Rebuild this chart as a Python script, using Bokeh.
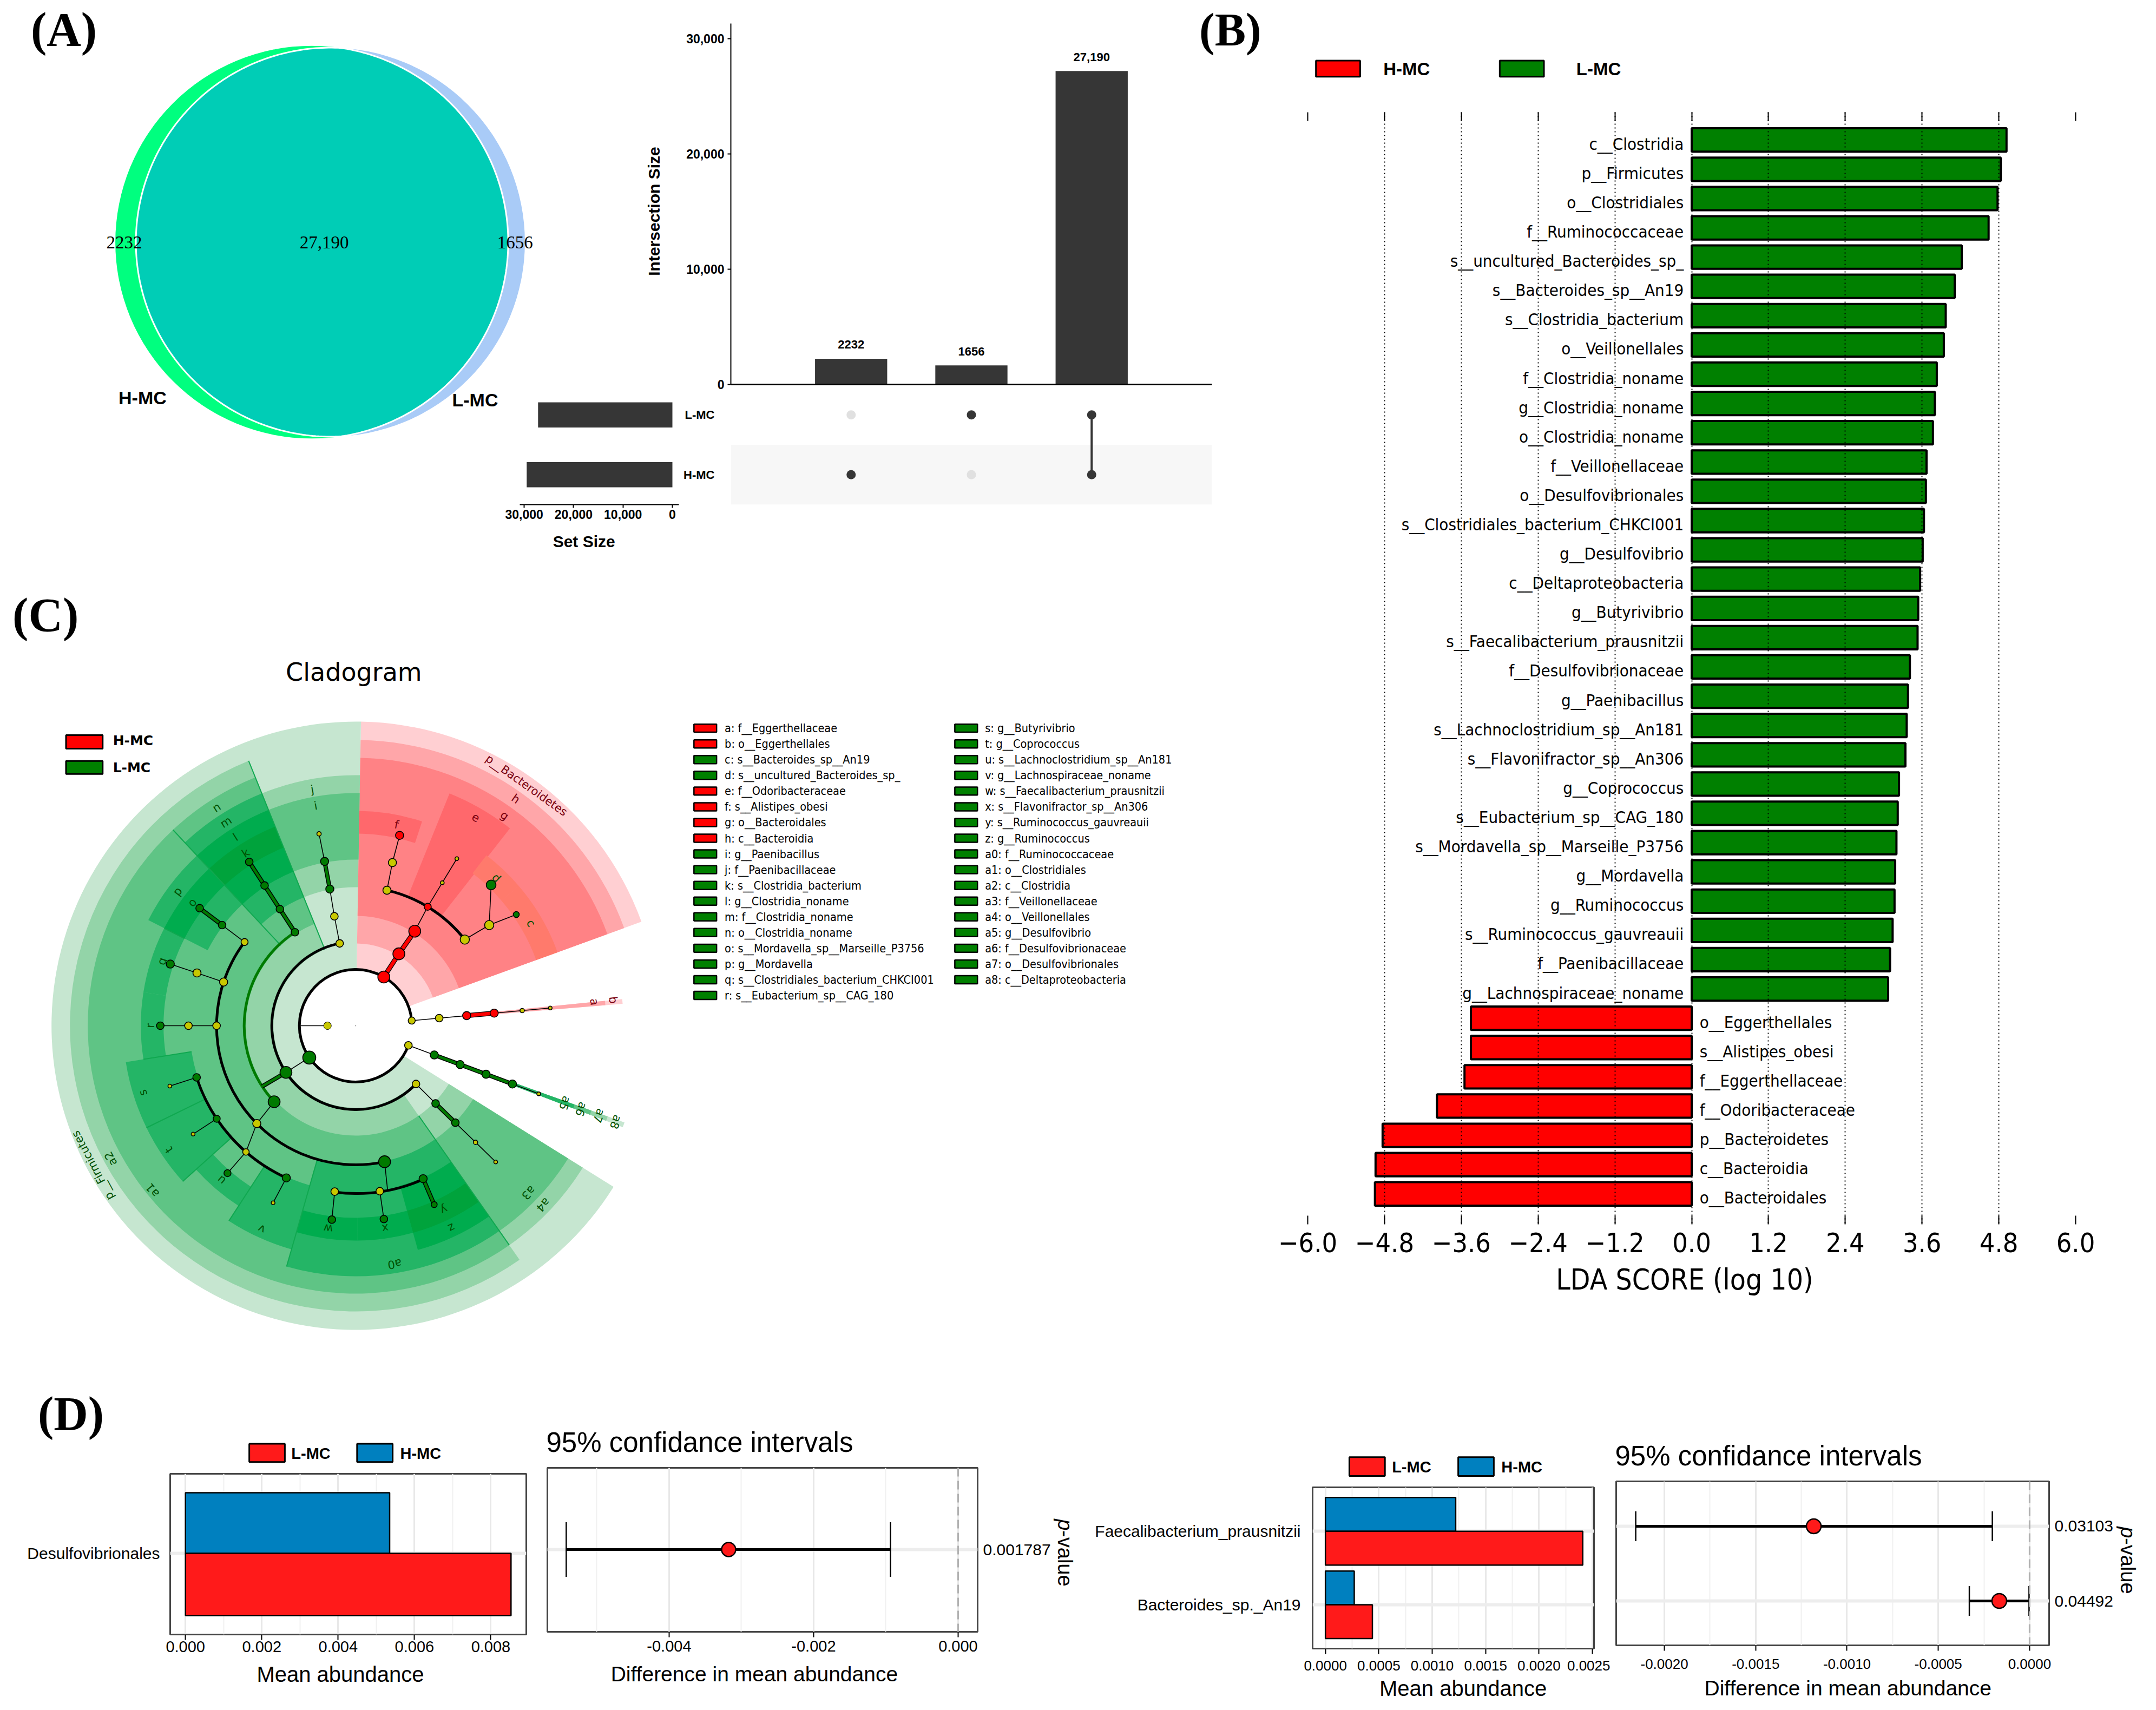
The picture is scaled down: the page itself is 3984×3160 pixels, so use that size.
from bokeh.plotting import figure
from bokeh.models import Range1d, LinearAxis, FixedTicker, Grid, Column, Span
from bokeh.core.properties import value
from bokeh.embed import file_html
from bokeh.resources import INLINE
import numpy as np

# ------------------ DATA ------------------
VENN_ONLY_H = 2232
VENN_BOTH = 27190
VENN_ONLY_L = 1656
UP_VALUES = [2232, 1656, 27190]
UP_LABELS = ["2232", "1656", "27,190"]
UP_TICKS = [0, 10000, 20000, 30000]
UP_TICK_LABELS = ["0", "10,000", "20,000", "30,000"]
SET_NAMES = ["H-MC", "L-MC"]
SET_SIZES = [29500, 27200]
MATRIX_H = [1, 0, 1]
MATRIX_L = [0, 1, 1]

LDA_NAMES = ["c__Clostridia","p__Firmicutes","o__Clostridiales","f__Ruminococcaceae","s__uncultured_Bacteroides_sp_",
 "s__Bacteroides_sp__An19","s__Clostridia_bacterium","o__Veillonellales","f__Clostridia_noname","g__Clostridia_noname",
 "o__Clostridia_noname","f__Veillonellaceae","o__Desulfovibrionales","s__Clostridiales_bacterium_CHKCI001","g__Desulfovibrio",
 "c__Deltaproteobacteria","g__Butyrivibrio","s__Faecalibacterium_prausnitzii","f__Desulfovibrionaceae","g__Paenibacillus",
 "s__Lachnoclostridium_sp__An181","s__Flavonifractor_sp__An306","g__Coprococcus","s__Eubacterium_sp__CAG_180",
 "s__Mordavella_sp__Marseille_P3756","g__Mordavella","g__Ruminococcus","s__Ruminococcus_gauvreauii","f__Paenibacillaceae",
 "g__Lachnospiraceae_noname","o__Eggerthellales","s__Alistipes_obesi","f__Eggerthellaceae","f__Odoribacteraceae",
 "p__Bacteroidetes","c__Bacteroidia","o__Bacteroidales"]
LDA_VALUES = [4.92,4.83,4.78,4.64,4.22,4.11,3.97,3.94,3.83,3.80,3.77,3.67,3.66,3.63,3.61,3.57,3.54,3.53,3.41,3.38,3.36,3.34,
 3.24,3.22,3.20,3.18,3.17,3.14,3.10,3.07,-3.45,-3.45,-3.55,-3.98,-4.83,-4.94,-4.95]
LDA_TICKS = [-6.0,-4.8,-3.6,-2.4,-1.2,0.0,1.2,2.4,3.6,4.8,6.0]
LDA_TICK_LABELS = ["\u22126.0","\u22124.8","\u22123.6","\u22122.4","\u22121.2","0.0","1.2","2.4","3.6","4.8","6.0"]

LEG_C1 = ["a: f__Eggerthellaceae","b: o__Eggerthellales","c: s__Bacteroides_sp__An19","d: s__uncultured_Bacteroides_sp_",
 "e: f__Odoribacteraceae","f: s__Alistipes_obesi","g: o__Bacteroidales","h: c__Bacteroidia","i: g__Paenibacillus",
 "j: f__Paenibacillaceae","k: s__Clostridia_bacterium","l: g__Clostridia_noname","m: f__Clostridia_noname",
 "n: o__Clostridia_noname","o: s__Mordavella_sp__Marseille_P3756","p: g__Mordavella","q: s__Clostridiales_bacterium_CHKCI001",
 "r: s__Eubacterium_sp__CAG_180"]
LEG_C1_GROUP = list("RRGGRRRRGGGGGGGGGG")
LEG_C2 = ["s: g__Butyrivibrio","t: g__Coprococcus","u: s__Lachnoclostridium_sp__An181","v: g__Lachnospiraceae_noname",
 "w: s__Faecalibacterium_prausnitzii","x: s__Flavonifractor_sp__An306","y: s__Ruminococcus_gauvreauii","z: g__Ruminococcus",
 "a0: f__Ruminococcaceae","a1: o__Clostridiales","a2: c__Clostridia","a3: f__Veillonellaceae","a4: o__Veillonellales",
 "a5: g__Desulfovibrio","a6: f__Desulfovibrionaceae","a7: o__Desulfovibrionales","a8: c__Deltaproteobacteria"]

# Cladogram: level radii, wedges (level, start, end, group, depth), nodes (level, angle, colour, size)
NODE_R = [104, 155, 206, 257, 309, 361]
WEDGE_IN = [104, 152, 203, 256, 307, 355]
WEDGE_OUT = [562, 528, 495, 463, 430, 397]
WEDGES = [
 (0,20,89,"r",1),(1,20,89,"r",2),(2,20,89,"r",3),(3,52,68,"r",4),(5,72,89,"r",4),(5,40.6,52.5,"o",4),(5,20,40.6,"o",4),
 (0,89,328,"g",1),(1,112,305,"g",2),(2,133,305,"g",3),(2,112,133,"g",3),(3,112,133,"g",4),(4,112,133,"g",5),(5,112,133,"g",6),
 (3,89,112,"g",2),(4,89,112,"g",3),(4,133,153,"g",4),(5,133,153,"g",5),(5,153,171,"g",4),(5,171,189,"g",4),(4,189,206,"g",4),
 (4,206,222,"g",4),(5,222,237,"g",4),(4,237,254,"g",4),(3,254,305,"g",4),(5,254,270.5,"g",5),(5,270.5,285.5,"g",5),
 (4,285.5,305,"g",5),(5,285.5,305,"g",6),(2,305,328,"g",2),(3,305,328,"g",3),
 (2,4.7,5.7,"r",1),(3,4.7,5.7,"r",2),
 (1,339.2,340.2,"g",1),(2,339.2,340.2,"g",2),(3,339.2,340.2,"g",3),(4,339.2,340.2,"g",4),
]
BOUNDARIES = [(133,203,495),(305,203,495),(254,256,463),(112,152,528),(153,355,397),(189,307,397),(206,307,430),(222,307,430),(237,307,430)]
NODES = {
 "pa":(0,5.2,"y",13),"ca":(1,5.2,"y",14),"b":(2,5.2,"r",15),"a":(3,5.2,"r",15),"ga":(4,5.2,"y",8),"sa":(5,5.2,"y",7),
 "pp":(0,339.6,"y",14),"a8":(1,339.6,"g",15),"a7":(2,339.6,"g",15),"a6":(3,339.6,"g",15),"a5":(4,339.6,"g",15),"sp":(5,339.6,"y",7),
 "pb":(0,60,"r",22),"h":(1,59,"r",22),"g":(2,58,"r",22),"e":(3,58.8,"r",13),"ge":(4,58.8,"y",7),"se":(5,58.8,"y",7),
 "f77":(3,77,"y",15),"g77":(4,77.3,"y",15),"f":(5,77,"r",15),
 "f38":(3,38.3,"y",17),"g37":(4,37,"y",17),"d":(5,46.1,"g",18),"c":(5,34.7,"g",11),
 "pf":(0,214.5,"g",24),"a2":(1,213.8,"g",22),"a2x":(2,213,"g",1),"a1":(2,223,"g",22),
 "cb":(1,101,"y",14),"ob":(2,101,"y",14),"j":(3,100.7,"g",15),"i":(4,100.7,"g",15),"si":(5,100.8,"y",8),
 "n":(2,123,"g",14),"m":(3,123,"g",14),"l":(4,123,"g",14),"k":(5,123,"g",14),
 "f143":(3,143,"y",13),"p":(4,143,"g",14),"o":(5,143,"g",14),
 "f161":(3,161.7,"y",15),"g161":(4,161.6,"y",15),"q":(5,161.6,"g",15),
 "f180":(3,180,"y",14),"g180":(4,180,"y",14),"r":(5,180,"g",14),
 "f225":(3,224.7,"y",15),"s":(4,198,"g",14),"t":(4,213.8,"g",13),"g229":(4,229,"y",12),"v":(4,245.5,"g",15),
 "ss":(5,198,"y",7),"st":(5,213.7,"y",7),"u":(5,229,"g",13),"sv":(5,245,"y",7),
 "a0":(3,282,"g",22),"g263":(4,262.8,"y",14),"g278":(4,278.3,"y",14),"z":(4,293.8,"g",15),
 "a0x":(4,281,"y",1),"w":(5,263,"g",14),"x":(5,278.3,"g",14),"y":(5,293.7,"g",11),
 "c316":(1,316,"y",14),"a4":(2,315.8,"g",14),"a3":(3,315.8,"g",14),"g316":(4,315.8,"y",8),"s316":(5,315.8,"y",7),
}
THIN_EDGES = [("pa","ca"),("ca","b"),("a","ga"),("ga","sa"),("pp","a8"),("a5","sp"),("g","e"),("e","ge"),("ge","se"),
 ("f77","g77"),("g77","f"),("f38","g37"),("g37","d"),("g37","c"),("pf","a2"),("a1","f225"),("f225","g229"),
 ("cb","ob"),("ob","j"),("i","si"),("f143","p"),("f161","g161"),("g161","q"),("f180","g180"),("g180","r"),
 ("s","ss"),("t","st"),("g229","u"),("v","sv"),("a0","a0x"),("g263","w"),("g278","x"),("c316","a4"),("a3","g316"),("g316","s316")]
GREEN_EDGES = [("a2","a2x"),("n","m"),("m","l"),("l","k"),("p","o"),("j","i"),("a4","a3"),("z","y"),
 ("a8","a7"),("a7","a6"),("a6","a5")]
RED_EDGES = [("pb","h"),("h","g"),("b","a")]
ARCS = [(104,5,340,"k"),(155,101,316,"k"),(206,123,223,"g"),(257,143,282,"k"),(309,198,245.5,"k"),
 (310,262.8,293.8,"k"),(257,38.3,77,"k")]
CLADE_LABELS = [("a",443,5.7,"r"),("b",478,5.7,"r"),("c",375,30.3,"g"),("d",377,46.4,"g"),("e",445,60,"r"),("f",379,78.5,"r"),
 ("g",476,54.7,"r"),("h",513,54.8,"r"),("p__Bacteroidetes",545,54.6,"r"),
 ("i",413,100.3,"g"),("j",444,100.4,"g"),("k",378,122.5,"g"),("l",413,122.5,"g"),("m",446,122.5,"g"),("n",478,122.5,"g"),
 ("o",378,143,"g"),("p",412,143,"g"),("q",377,161.6,"g"),("r",379,180,"g"),("s",412,197.5,"g"),("t",414,213.6,"g"),
 ("u",378,229,"g"),("v",414,245.2,"g"),("w",378,262.3,"g"),("x",378,278.3,"g"),("y",377,295.6,"g"),("z",413,295.4,"g"),
 ("a0",446,279.3,"g"),("a1",483,219,"g"),("a2",515,208.5,"g"),("p__Firmicutes",550,208,"g"),("a3",444,316,"g"),("a4",479,316.3,"g"),
 ("a5",412,339.7,"g"),("a6",444,339.7,"g"),("a7",479,339.7,"g"),("a8",512,339.7,"g")]

D1_CAT = ["Desulfovibrionales"]
D1_H = [0.00535]
D1_L = [0.00853]
D1_TICKS = [0.0,0.002,0.004,0.006,0.008]
D1_LABELS = ["0.000","0.002","0.004","0.006","0.008"]
D1_DIFF = [-0.003176]
D1_LO = [-0.005424]
D1_HI = [-0.000936]
D1_P = ["0.001787"]
D1C_TICKS = [-0.004,-0.002,0.0]
D1C_LABELS = ["-0.004","-0.002","0.000"]

D2_CAT = ["Bacteroides_sp._An19","Faecalibacterium_prausnitzii"]
D2_H = [0.00027,0.00122]
D2_L = [0.00044,0.00241]
D2_TICKS = [0.0,0.0005,0.001,0.0015,0.002,0.0025]
D2_LABELS = ["0.0000","0.0005","0.0010","0.0015","0.0020","0.0025"]
D2_DIFF = [-0.000166,-0.001182]
D2_LO = [-0.00033,-0.002157]
D2_HI = [-0.000003,-0.000204]
D2_P = ["0.04492","0.03103"]
D2C_TICKS = [-0.002,-0.0015,-0.001,-0.0005,0.0]
D2C_LABELS = ["-0.0020","-0.0015","-0.0010","-0.0005","0.0000"]

# ------------------ HELPERS ------------------
SANS = "Liberation Sans"
COND = "DejaVu Sans Condensed"
figs = []

def panel(x0, x1, y0, y1, xr, yr, pad=(130, 150, 30, 100)):
    l, r, t, b = pad
    p = figure(width=int(x1-x0+l+r), height=int(y1-y0+t+b), x_range=Range1d(*xr), y_range=Range1d(*yr),
               x_axis_type=None, y_axis_type=None, output_backend="svg", toolbar_location=None,
               min_border_left=l, min_border_right=r, min_border_top=t, min_border_bottom=b, frame_align=False,
               background_fill_alpha=0, border_fill_alpha=0, outline_line_color=None,
               styles={"position": "absolute", "left": f"{x0-l}px", "top": f"{y0-t}px"})
    figs.append(p)
    return p

def axis(p, side, ticks, labels, size, font=SANS, style="normal", standoff=8, tick_out=10, tick_in=0, line=None, minor=None, line_w=2):
    ax = LinearAxis(ticker=FixedTicker(ticks=list(ticks)),
                    major_label_overrides={float(t): s for t, s in zip(ticks, labels)} if labels else {},
                    major_label_text_font=font, major_label_text_font_size=f"{size}px", major_label_text_font_style=style,
                    major_label_text_color="black", major_label_standoff=standoff,
                    major_tick_out=tick_out, major_tick_in=tick_in, major_tick_line_color="black" if (tick_out or tick_in) else None,
                    major_tick_line_width=2, minor_tick_line_color=None, axis_line_color=line, axis_line_width=line_w)
    p.add_layout(ax, side)
    return ax

def polar(r, a):
    return r*np.cos(np.radians(a)), r*np.sin(np.radians(a))

# ------------------ VENN ------------------
H_TOTAL = VENN_ONLY_H + VENN_BOTH
L_TOTAL = VENN_ONLY_L + VENN_BOTH
K = 363/np.sqrt(H_TOTAL)
rH, rL = K*np.sqrt(H_TOTAL), K*np.sqrt(L_TOTAL)
cH, cL, cY = 575.6, 610.0, 447.0
v = panel(200, 975, 70, 830, (200, 975), (830, 70), pad=(10, 10, 10, 10))
v.circle(x=[cH], y=[cY], radius=[rH], fill_color="#00FF7F", line_color=None)
v.circle(x=[cL], y=[cY], radius=[rL], fill_color="#A9CBF7", line_color=None)
d = cL - cH
xi = (d*d + rH*rH - rL*rL)/(2*d)
ang_H = np.arccos(xi/rH)
ang_L = np.arccos((d-xi)/rL)
tH = np.linspace(-ang_H, ang_H, 200)
tL = np.linspace(np.pi-ang_L, np.pi+ang_L, 200)
v.patch(np.r_[cH+rH*np.cos(tH), cL+rL*np.cos(tL)], np.r_[cY+rH*np.sin(tH), cY+rL*np.sin(tL)],
        fill_color="#00CDB6", line_color="white", line_width=3)

# ------------------ UPSET ------------------
u = panel(1350, 2239, 43, 710, (0, 4), (0, 31315), pad=(100, 10, 20, 20))
up_x = [1, 2, 3]
u.vbar(x=up_x, top=UP_VALUES, width=0.6, fill_color="#363636", line_color=None)
u.text(x=up_x, y=UP_VALUES, text=UP_LABELS, text_align="center", text_baseline="middle", y_offset=-26,
       text_font=value(SANS), text_font_style="bold", text_font_size="22px", color="black")
axis(u, "left", UP_TICKS, UP_TICK_LABELS, 23, style="bold", standoff=6, tick_out=6, line="black")
axis(u, "below", [], None, 10, tick_out=0, line="black", line_w=3).major_label_text_color = None

m = panel(1350, 2239, 711, 932, (0, 4), (0, 2), pad=(110, 10, 10, 10))
m.quad(left=[0], right=[4], bottom=[0], top=[1], fill_color="#F7F7F7", line_color=None)
for row, flags in zip([0.5, 1.5], [MATRIX_H, MATRIX_L]):
    m.scatter(x=up_x, y=[row]*3, size=17, fill_color=["#363636" if f else "#E0E0E0" for f in flags], line_color=None)
m.segment(x0=[up_x[2]], x1=[up_x[2]], y0=[0.5], y1=[1.5], line_color="#363636", line_width=4)
axis(m, "left", [0.5, 1.5], SET_NAMES, 22, style="bold", standoff=30, tick_out=0)

s = panel(960, 1254, 711, 932, (30900, -1314), (0, 2), pad=(50, 30, 10, 60))
s.hbar(y=[0.5, 1.5], left=0, right=SET_SIZES, height=0.42, fill_color="#363636", line_color=None)
axis(s, "below", UP_TICKS, UP_TICK_LABELS, 23, style="bold", standoff=3, tick_out=6, line="black")

# ------------------ LDA ------------------
b = panel(2416, 3835, 207, 2262, (-6, 6), (37.04, -0.947), pad=(60, 60, 10, 90))
pos = np.arange(len(LDA_VALUES))
vals = np.array(LDA_VALUES)
b.hbar(y=pos, left=0, right=vals, height=0.80, fill_color=["#008000" if x > 0 else "#FF0000" for x in vals],
       line_color="black", line_width=4)
names = np.array(LDA_NAMES)
b.text(x=[-0.125]*int((vals > 0).sum()), y=pos[vals > 0], text=list(names[vals > 0]), text_align="right", text_baseline="middle",
       y_offset=7, text_font=value(COND), text_font_size="31px", color="black")
b.text(x=[0.125]*int((vals < 0).sum()), y=pos[vals < 0], text=list(names[vals < 0]), text_align="left", text_baseline="middle",
       y_offset=7, text_font=value(COND), text_font_size="31px", color="black")
b.add_layout(Grid(dimension=0, ticker=FixedTicker(ticks=LDA_TICKS), grid_line_color="black", grid_line_dash="2 5",
                  grid_line_width=2, level="overlay"))
axis(b, "below", LDA_TICKS, LDA_TICK_LABELS, 50, font=COND, standoff=15, tick_out=0, tick_in=16)
axis(b, "above", LDA_TICKS, [""]*len(LDA_TICKS), 1, standoff=0, tick_out=0, tick_in=16)

# ------------------ CLADOGRAM ------------------
CX, CY = 656.7, 1895.0
c = panel(30, 1240, 1310, 2480, (30-CX, 1240-CX), (CY-2480, CY-1310), pad=(5, 5, 5, 5))
DEPTH_COL = {"g": {1: "#C6E6D0", 2: "#93D4A8", 3: "#5FC485", 4: "#24B566", 5: "#00AC4E", 6: "#00A33C"},
             "r": {1: "#FFCFD2", 2: "#FFA6A9", 3: "#FF8285", 4: "#FF686C"},
             "o": {4: "#FF7A6C"}}
for lev, a0, a1, grp, dep in sorted(WEDGES, key=lambda w: w[4]):
    c.annular_wedge(x=[0], y=[0], inner_radius=[WEDGE_IN[lev]], outer_radius=[WEDGE_OUT[lev]], start_angle=[a0], end_angle=[a1],
                    start_angle_units="deg", end_angle_units="deg", fill_color=DEPTH_COL[grp][dep], line_color=None)
for a_, r0, r1 in BOUNDARIES:
    x0, y0 = polar(r0, a_)
    x1, y1 = polar(r1, a_)
    c.segment(x0=[x0], y0=[y0], x1=[x1], y1=[y1], line_color="#10A850", line_width=2)
for r_, a0, a1, col in ARCS:
    c.arc(x=[0], y=[0], radius=[r_], start_angle=[a0], end_angle=[a1], start_angle_units="deg", end_angle_units="deg",
          line_color="black" if col == "k" else "#007A00", line_width=5)
def xy(n):
    lev, a, _, _ = NODES[n]
    return polar(NODE_R[lev], a)
def draw_edges(edges, color, w):
    x0 = [xy(a)[0] for a, _ in edges]; y0 = [xy(a)[1] for a, _ in edges]
    x1 = [xy(b_)[0] for _, b_ in edges]; y1 = [xy(b_)[1] for _, b_ in edges]
    c.segment(x0=x0, y0=y0, x1=x1, y1=y1, line_color=color, line_width=w)
draw_edges(THIN_EDGES, "black", 1.6)
draw_edges(GREEN_EDGES, "black", 8)
draw_edges(GREEN_EDGES, "#007A00", 5)
draw_edges(RED_EDGES, "black", 9)
draw_edges(RED_EDGES, "#FF0000", 6.5)
# small inner node and root
x52, y52 = polar(52, 180)
x104, y104 = polar(102, 180)
c.segment(x0=[x52], y0=[y52], x1=[x104], y1=[y104], line_color="black", line_width=1.6)
c.scatter(x=[x52], y=[y52], size=14, fill_color="#C8C800", line_color="black", line_width=1)
c.scatter(x=[0], y=[0], size=2, fill_color="#888888", line_color=None)
NCOL = {"y": "#C8C800", "g": "#007A00", "r": "#FF0000"}
nk = [k for k in NODES if NODES[k][3] > 1]
c.scatter(x=[xy(k)[0] for k in nk], y=[xy(k)[1] for k in nk], size=[NODES[k][3] for k in nk],
          fill_color=[NCOL[NODES[k][2]] for k in nk], line_color="black", line_width=1.6)
LCOL = {"r": "#7A0010", "g": "#005000"}
for t_, r_, a_, col in CLADE_LABELS:
    x_, y_ = polar(r_, a_)
    c.text(x=[x_], y=[y_], text=[t_], angle=[a_-90], angle_units="deg", text_align="center", text_baseline="middle",
           text_font=value("DejaVu Sans"), text_font_size="21px", text_color=LCOL[col])

# ------------------ PANEL D ------------------
def style_frame(p):
    p.outline_line_color = "#444444"
    p.outline_line_width = 3

def vgrid(p, ticks, minor):
    p.add_layout(Grid(dimension=0, ticker=FixedTicker(ticks=list(ticks), minor_ticks=list(minor)), grid_line_color="#E8E8E8", grid_line_width=3,
                      minor_grid_line_color="#F0F0F0", minor_grid_line_width=2))

def hgrid(p, ticks):
    p.add_layout(Grid(dimension=1, ticker=FixedTicker(ticks=list(ticks)), grid_line_color="#EDEDED", grid_line_width=6))

RED, BLUE = "#FF1A1A", "#0080BF"
# D1 bars
d1 = panel(314, 972, 2723, 3020, (-0.0004, 0.00893), (-1.5, 1.47), pad=(300, 30, 30, 100))
style_frame(d1)
vgrid(d1, D1_TICKS, [0.001, 0.003, 0.005, 0.007])
hgrid(d1, [0])
d1.hbar(y=[0.56], left=0, right=D1_H, height=1.12, fill_color=BLUE, line_color="black", line_width=2.5)
d1.hbar(y=[-0.575], left=0, right=D1_L, height=1.15, fill_color=RED, line_color="black", line_width=2.5)
axis(d1, "below", D1_TICKS, D1_LABELS, 29, standoff=2)
axis(d1, "left", [0], D1_CAT, 30, standoff=19, tick_out=0)

# D1 CI
d1c = panel(1011, 1806, 2712, 3015, (-0.005685, 0.00027), (-1.52, 1.51), pad=(10, 160, 30, 100))
style_frame(d1c)
vgrid(d1c, D1C_TICKS, [-0.005, -0.003, -0.001])
hgrid(d1c, [0])
d1c.add_layout(Span(location=0, dimension="height", line_color="#B0B0B0", line_width=3, line_dash="16 8"))
d1c.segment(x0=D1_LO, x1=D1_HI, y0=[0], y1=[0], line_color="black", line_width=5)
d1c.segment(x0=D1_LO, x1=D1_LO, y0=[-0.505], y1=[0.505], line_color="black", line_width=2.5)
d1c.segment(x0=D1_HI, x1=D1_HI, y0=[-0.505], y1=[0.505], line_color="black", line_width=2.5)
d1c.scatter(x=D1_DIFF, y=[0], size=26, fill_color=RED, line_color="black", line_width=2.5)
axis(d1c, "below", D1C_TICKS, D1C_LABELS, 29, standoff=6)
axis(d1c, "right", [0], D1_P, 30, standoff=10, tick_out=0)

# D2 bars
d2_y = [0, 1]
d2 = panel(2425, 2945, 2747.5, 3046, (-0.00012, 0.002515), (-0.596, 1.599), pad=(430, 30, 30, 100))
style_frame(d2)
vgrid(d2, D2_TICKS, [0.00025, 0.00075, 0.00125, 0.00175, 0.00225])
hgrid(d2, d2_y)
d2.hbar(y=[y+0.23 for y in d2_y], left=0, right=D2_H, height=0.46, fill_color=BLUE, line_color="black", line_width=2.5)
d2.hbar(y=[y-0.23 for y in d2_y], left=0, right=D2_L, height=0.46, fill_color=RED, line_color="black", line_width=2.5)
axis(d2, "below", D2_TICKS, D2_LABELS, 26, standoff=12)
axis(d2, "left", d2_y, D2_CAT, 30, standoff=22, tick_out=0)

# D2 CI
d2c = panel(2986, 3786, 2737, 3040, (-0.002264, 0.000107), (-0.594, 1.601), pad=(10, 160, 30, 100))
style_frame(d2c)
vgrid(d2c, D2C_TICKS, [-0.00175, -0.00125, -0.00075, -0.00025])
hgrid(d2c, d2_y)
d2c.add_layout(Span(location=0, dimension="height", line_color="#B0B0B0", line_width=3, line_dash="16 8"))
d2c.segment(x0=D2_LO, x1=D2_HI, y0=d2_y, y1=d2_y, line_color="black", line_width=5)
d2c.segment(x0=D2_LO, x1=D2_LO, y0=[y-0.2 for y in d2_y], y1=[y+0.2 for y in d2_y], line_color="black", line_width=2.5)
d2c.segment(x0=D2_HI, x1=D2_HI, y0=[y-0.2 for y in d2_y], y1=[y+0.2 for y in d2_y], line_color="black", line_width=2.5)
d2c.scatter(x=D2_DIFF, y=d2_y, size=27, fill_color=RED, line_color="black", line_width=2.5)
axis(d2c, "below", D2C_TICKS, D2C_LABELS, 26, standoff=15)
axis(d2c, "right", d2_y, D2_P, 30, standoff=10, tick_out=0)

# ------------------ OVERLAY (titles, legends, labels) ------------------
o = panel(0, 3984, 0, 3160, (0, 3984), (3160, 0), pad=(0, 0, 0, 0))
def T(x, y, t, size, font=SANS, style="normal", align="center", angle=0, color="black"):
    o.text(x=[x], y=[y], text=[t], angle=[angle], angle_units="deg", text_align=align, text_baseline="middle",
           text_font=value(font), text_font_style=style, text_font_size=f"{size}px", text_color=color)
def box(x0, x1, y0, y1, col, lw=3):
    o.quad(left=[x0], right=[x1], top=[y0], bottom=[y1], fill_color=col, line_color="black", line_width=lw)

SERIF = "Liberation Serif"
T(118, 54, "(A)", 88, SERIF, "bold")
T(2282, 55, "(B)", 86, SERIF, "bold")
T(84, 1142, "(C)", 88, SERIF, "bold")
T(131, 2625, "(D)", 88, SERIF, "bold")

T(230, 450, f"{VENN_ONLY_H}", 33, SERIF)
T(601, 450, f"{VENN_BOTH:,}", 33, SERIF)
T(955, 450, f"{VENN_ONLY_L}", 33, SERIF)
T(264, 738, "H-MC", 34, SANS, "bold")
T(881, 742, "L-MC", 34, SANS, "bold")
T(1213, 392, "Intersection Size", 30, SANS, "bold", angle=90)
T(1083, 1005, "Set Size", 30, SANS, "bold")

box(2441, 2523, 112, 142, "#FF0000")
T(2566, 128, "H-MC", 33, SANS, "bold", "left")
box(2782, 2864, 112, 142, "#008000")
T(2924, 128, "L-MC", 33, SANS, "bold", "left")
T(3125, 2376, "LDA SCORE (log 10)", 53, COND)

T(656, 1248, "Cladogram", 46, "DejaVu Sans")
box(122, 190, 1365, 1390, "#FF0000")
T(209, 1375, "H-MC", 25, "DejaVu Sans", "bold", "left")
box(122, 190, 1413, 1437, "#008000")
T(209, 1425, "L-MC", 25, "DejaVu Sans", "bold", "left")

for i, (t_, g_) in enumerate(zip(LEG_C1, LEG_C1_GROUP)):
    y_ = 1352 + i*29.2
    box(1287, 1329, y_-7.5, y_+7.5, "#FF0000" if g_ == "R" else "#008000", 2.5)
    T(1344, y_, t_, 21.5, COND, align="left")
for i, t_ in enumerate(LEG_C2):
    y_ = 1352 + i*29.2
    box(1771, 1813, y_-7.5, y_+7.5, "#008000", 2.5)
    T(1827, y_, t_, 21.5, COND, align="left")

for bx, lx1, lx2, ly, by0, by1 in [(462, 540, 662, 2699, 2681, 2715), (2503, 2582, 2705, 2724, 2706, 2741)]:
    box(bx, bx+66, by0, by1, RED)
    T(lx1, ly, "L-MC", 29, SANS, "bold", "left")
    box(lx2, lx2+66, by0, by1, BLUE)
    T(lx2+80, ly, "H-MC", 29, SANS, "bold", "left")

T(1013, 2679, "95% confidance intervals", 51, SANS, align="left")
T(2996, 2704, "95% confidance intervals", 51, SANS, align="left")
T(631, 3109, "Mean abundance", 40)
T(1399, 3109, "Difference in mean abundance", 39)
T(2714, 3135, "Mean abundance", 40)
T(3428, 3135, "Difference in mean abundance", 39)
for x_, y_ in [(1975, 2821), (3947, 2835)]:
    T(x_, y_, "p", 38, SANS, "italic", "left", -90)
    T(x_, y_+21, "-value", 38, SANS, "normal", "left", -90)

root = Column(children=figs, width=3968, height=3144, styles={"position": "relative"})
open("out.html", "w").write(file_html(root, INLINE))
